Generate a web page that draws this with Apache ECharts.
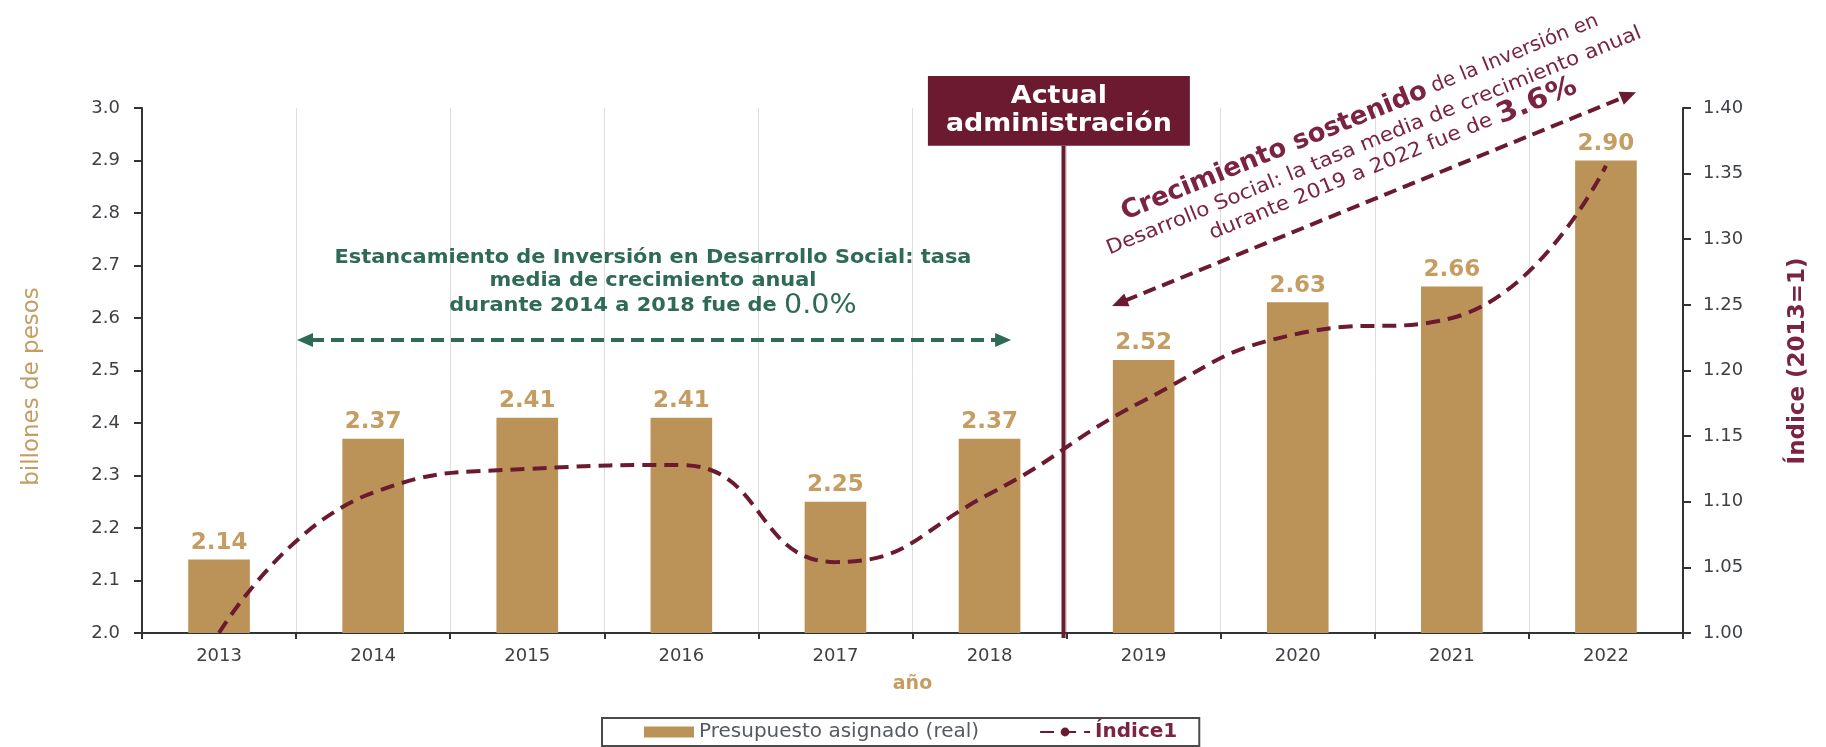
<!DOCTYPE html>
<html lang="es">
<head>
<meta charset="UTF-8">
<title>Presupuesto asignado en Desarrollo Social</title>
<style>
    html, body { margin: 0; padding: 0; background: #ffffff; }
    #chart { width: 1826px; height: 747px; }
</style>
</head>
<body>
<div id="chart"></div>
<script src="https://cdn.jsdelivr.net/npm/echarts@6/dist/echarts.min.js"></script>
<script>
    // datos
    var years = ['2013', '2014', '2015', '2016', '2017', '2018', '2019', '2020', '2021', '2022'];
    var presupuesto = [2.14, 2.37, 2.41, 2.41, 2.25, 2.37, 2.52, 2.63, 2.66, 2.90];
    var indice = [1.000, 1.107, 1.125, 1.128, 1.054, 1.106, 1.177, 1.228, 1.240, 1.356];

    var oro = '#bb9359';
    var oroTexto = '#c59d62';
    var guinda = '#6b1a2f';
    var guindaTexto = '#7a2343';
    var verde = '#2e6a56';
    var gris = '#3d4045';
    var fuente = 'DejaVu Sans';

    var chart = echarts.init(document.getElementById('chart'));
    chart.setOption({
        animation: false,
        textStyle: { fontFamily: fuente },
        grid: { left: 142, right: 143, top: 108, bottom: 114 },
        legend: {
            left: 602,
            bottom: 1,
            data: [
                { name: 'Presupuesto asignado (real)', icon: 'rect', textStyle: { color: '#555a60' } },
                { name: 'Índice1', textStyle: { color: guindaTexto, fontWeight: 'bold' } }
            ],
            itemWidth: 50,
            itemHeight: 11,
            itemGap: 60,
            textStyle: { fontSize: 20, fontFamily: fuente },
            borderColor: '#4a4a4a',
            borderWidth: 2,
            padding: [4, 22, 4, 42]
        },
        xAxis: {
            type: 'category',
            data: years,
            name: 'año',
            nameLocation: 'middle',
            nameGap: 42,
            nameTextStyle: { color: oroTexto, fontSize: 19, fontWeight: 'bold', fontFamily: fuente },
            axisLine: { lineStyle: { color: '#333333', width: 2 } },
            axisTick: { show: true, length: 6, lineStyle: { color: '#333333', width: 2 } },
            axisLabel: { color: gris, fontSize: 18, margin: 14, fontFamily: fuente },
            splitLine: { show: true, interval: 0, lineStyle: { color: '#dddddd', width: 1 } }
        },
        yAxis: [
            {
                type: 'value',
                position: 'left',
                min: 2,
                max: 3,
                interval: 0.1,
                name: 'billones de pesos',
                nameLocation: 'middle',
                nameRotate: 90,
                nameGap: 98,
                nameTextStyle: { color: oroTexto, fontSize: 23, fontFamily: fuente, padding: [0, 32, 0, 0] },
                axisLine: { show: true, lineStyle: { color: '#333333', width: 2 } },
                axisTick: { show: true, length: 8, lineStyle: { color: '#333333', width: 2 } },
                axisLabel: {
                    color: gris, fontSize: 18, margin: 22, fontFamily: fuente,
                    formatter: function (v) { return v.toFixed(1); }
                },
                splitLine: { show: false }
            },
            {
                type: 'value',
                position: 'right',
                min: 1,
                max: 1.4,
                interval: 0.05,
                name: 'Índice (2013=1)',
                nameLocation: 'middle',
                nameRotate: 90,
                nameGap: 104,
                nameTextStyle: { color: guindaTexto, fontSize: 23, fontWeight: 'bold', fontFamily: fuente, padding: [0, 0, 0, 19] },
                axisLine: { show: true, lineStyle: { color: '#333333', width: 2 } },
                axisTick: { show: true, length: 8, lineStyle: { color: '#333333', width: 2 } },
                axisLabel: {
                    color: gris, fontSize: 18, margin: 20, fontFamily: fuente,
                    formatter: function (v) { return v.toFixed(2); }
                },
                splitLine: { show: false }
            }
        ],
        series: [
            {
                name: 'Presupuesto asignado (real)',
                type: 'bar',
                data: presupuesto,
                barWidth: '40%',
                itemStyle: { color: oro },
                label: {
                    show: true,
                    position: 'top',
                    distance: 5,
                    color: oroTexto,
                    fontSize: 23,
                    fontWeight: 'bold',
                    fontFamily: fuente,
                    formatter: function (p) { return p.value.toFixed(2); }
                }
            },
            {
                name: 'Índice1',
                type: 'line',
                yAxisIndex: 1,
                data: indice,
                smooth: true,
                symbol: 'none',
                itemStyle: { color: guinda },
                lineStyle: { color: guinda, width: 4, type: [14, 8] },
                z: 3
            }
        ]
    });

    // anotaciones: posiciones en indice de categoria y valor del eje izquierdo
    function xAt(i) {
        var a = chart.convertToPixel({ xAxisIndex: 0 }, years[0]);
        var b = chart.convertToPixel({ xAxisIndex: 0 }, years[1]);
        return a + (b - a) * i;
    }
    function yAt(v) {
        return chart.convertToPixel({ yAxisIndex: 0 }, v);
    }

    function punta(x, y, ang, color) {
        var L = 16, W = 7;
        var bx = x - L * Math.cos(ang), by = y - L * Math.sin(ang);
        var nx = -Math.sin(ang) * W, ny = Math.cos(ang) * W;
        return {
            type: 'polygon', z: 20,
            shape: { points: [[x, y], [bx + nx, by + ny], [bx - nx, by - ny]] },
            style: { fill: color }
        };
    }
    function flechaDoble(x1, y1, x2, y2, color) {
        var ang = Math.atan2(y2 - y1, x2 - x1);
        var L = 14;
        return [
            {
                type: 'line', z: 20,
                shape: {
                    x1: x1 + L * Math.cos(ang), y1: y1 + L * Math.sin(ang),
                    x2: x2 - L * Math.cos(ang), y2: y2 - L * Math.sin(ang)
                },
                style: { stroke: color, lineWidth: 4, lineDash: [13, 7] }
            },
            punta(x2, y2, ang, color),
            punta(x1, y1, ang + Math.PI, color)
        ];
    }

    var band = xAt(1) - xAt(0);
    var graficos = [];

    // Actual administracion
    var xLinea = xAt(5.48);
    var cajaTop = yAt(3.061), cajaBottom = yAt(2.928), cajaX = xAt(5.45);
    graficos.push({
        type: 'rect', z: 30,
        shape: { x: cajaX - band * 0.85, y: cajaTop, width: band * 1.7, height: cajaBottom - cajaTop },
        style: { fill: guinda }
    });
    graficos.push({
        type: 'line', z: 30,
        shape: { x1: xLinea, y1: cajaBottom, x2: xLinea, y2: yAt(2) + 5 },
        style: { stroke: guinda, lineWidth: 4 }
    });
    graficos.push({
        type: 'text', z: 31, x: cajaX, y: cajaTop + (cajaBottom - cajaTop) * 0.3, scaleX: 1.12,
        style: { text: 'Actual', fill: '#ffffff', font: 'bold 24px "DejaVu Sans"', textAlign: 'center', textVerticalAlign: 'middle' }
    });
    graficos.push({
        type: 'text', z: 31, x: cajaX, y: cajaTop + (cajaBottom - cajaTop) * 0.7, scaleX: 1.12,
        style: { text: 'administración', fill: '#ffffff', font: 'bold 24px "DejaVu Sans"', textAlign: 'center', textVerticalAlign: 'middle' }
    });

    // estancamiento 2014-2018
    var xVerde = xAt(2.816);
    graficos.push({
        type: 'text', z: 20, x: xVerde, y: yAt(2.714), scaleX: 1.1,
        style: { text: 'Estancamiento de Inversión en Desarrollo Social: tasa', fill: verde, font: 'bold 19px "DejaVu Sans"', textAlign: 'center', textVerticalAlign: 'middle' }
    });
    graficos.push({
        type: 'text', z: 20, x: xVerde, y: yAt(2.670), scaleX: 1.1,
        style: { text: 'media de crecimiento anual', fill: verde, font: 'bold 19px "DejaVu Sans"', textAlign: 'center', textVerticalAlign: 'middle' }
    });
    graficos.push({
        type: 'text', z: 20, x: xVerde, y: yAt(2.623), scaleX: 1.1,
        style: {
            text: '{a|durante 2014 a 2018 fue de }{b|0.0%}',
            textAlign: 'center', textVerticalAlign: 'middle',
            rich: {
                a: { fill: verde, fontSize: 19, fontWeight: 'bold', fontFamily: fuente },
                b: { fill: verde, fontSize: 26, fontFamily: fuente }
            }
        }
    });
    graficos = graficos.concat(flechaDoble(xAt(0.506), yAt(2.558), xAt(5.14), yAt(2.558), verde));

    // crecimiento 2019-2022
    var ax1 = xAt(5.795), ay1 = yAt(2.623), ax2 = xAt(9.195), ay2 = yAt(3.030);
    graficos = graficos.concat(flechaDoble(ax1, ay1, ax2, ay2, guinda));
    var rot = Math.atan2(ay1 - ay2, ax2 - ax1);
    graficos.push({
        type: 'text', z: 20, x: xAt(7.404), y: yAt(2.983), rotation: rot,
        style: {
            text: '{a|Crecimiento sostenido}{b| de la Inversión en}',
            textAlign: 'center', textVerticalAlign: 'middle',
            rich: {
                a: { fill: guindaTexto, fontSize: 26, fontWeight: 'bold', fontFamily: fuente },
                b: { fill: guindaTexto, fontSize: 20, fontFamily: fuente }
            }
        }
    });
    graficos.push({
        type: 'text', z: 20, x: xAt(7.495), y: yAt(2.937), rotation: rot, scaleX: 1.08,
        style: { text: 'Desarrollo Social: la tasa media de crecimiento anual', fill: guindaTexto, font: '20px "DejaVu Sans"', textAlign: 'center', textVerticalAlign: 'middle' }
    });
    graficos.push({
        type: 'text', z: 20, x: xAt(7.618), y: yAt(2.901), rotation: rot, scaleX: 1.08,
        style: {
            text: '{a|durante 2019 a 2022 fue de }{b|3.6%}',
            textAlign: 'center', textVerticalAlign: 'middle',
            rich: {
                a: { fill: guindaTexto, fontSize: 20, fontFamily: fuente },
                b: { fill: guindaTexto, fontSize: 28, fontWeight: 'bold', fontFamily: fuente }
            }
        }
    });

    chart.setOption({ graphic: graficos });
</script>
</body>
</html>
